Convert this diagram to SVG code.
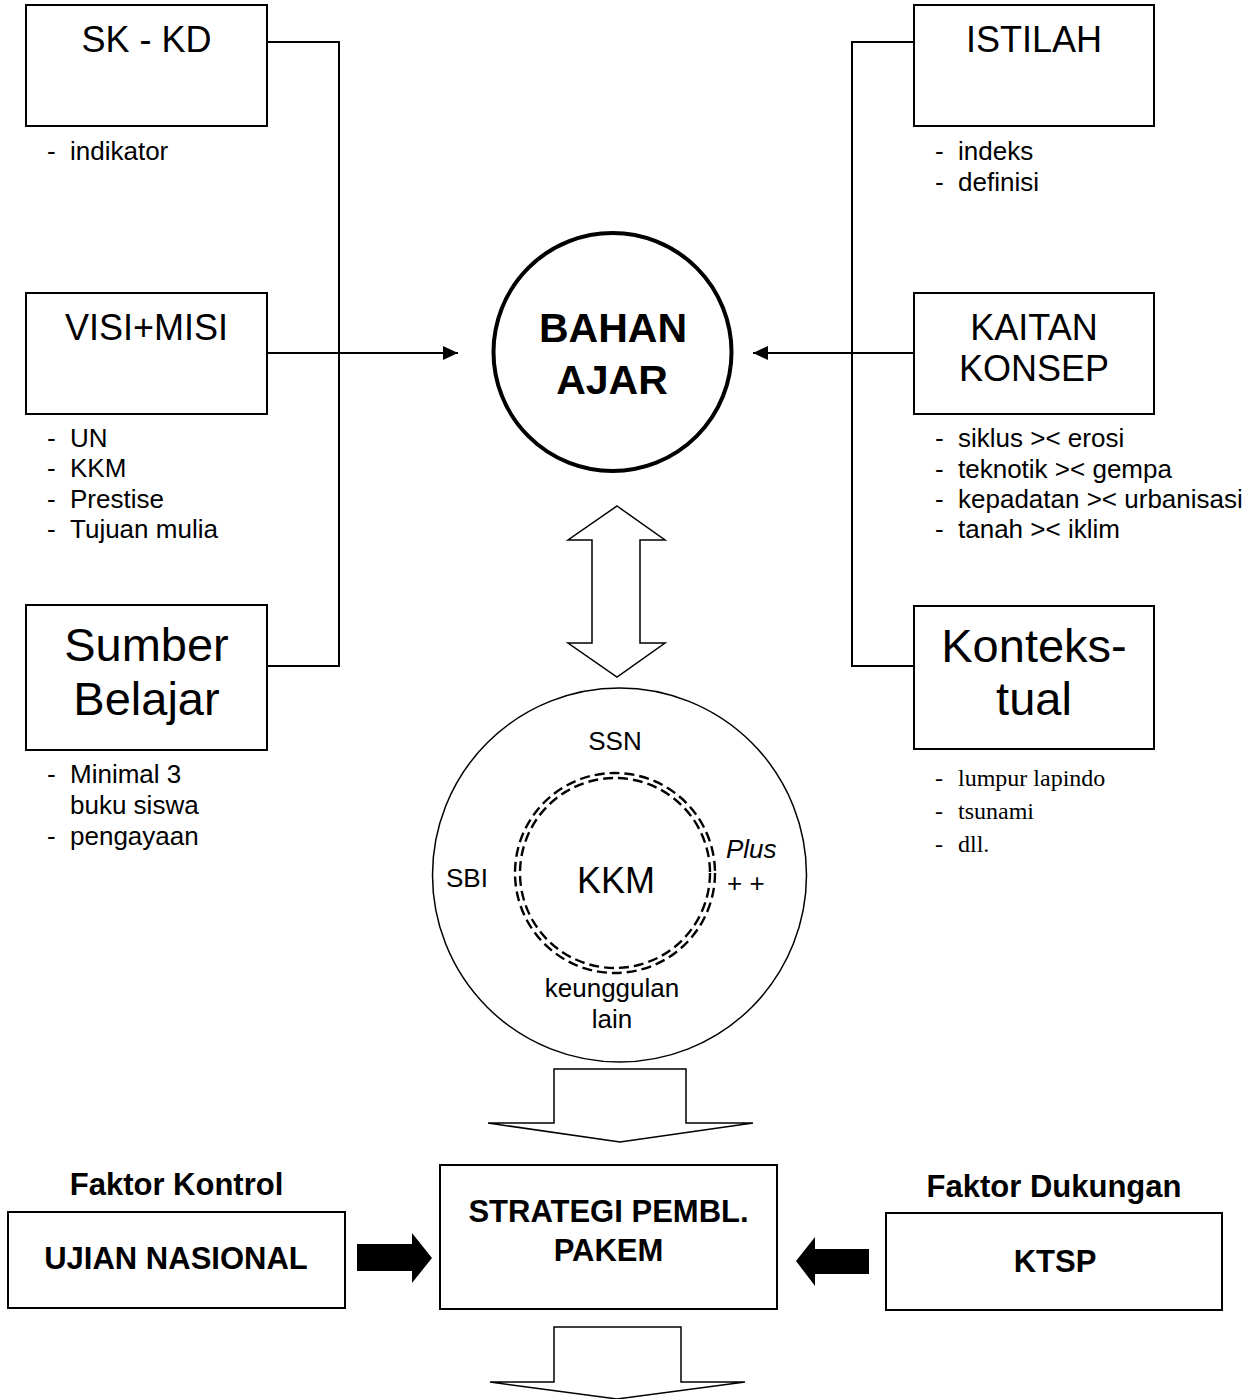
<svg xmlns="http://www.w3.org/2000/svg" width="1257" height="1399" viewBox="0 0 1257 1399">
<style>
.box{fill:#fff;stroke:#000;stroke-width:2}
.ln{fill:none;stroke:#000;stroke-width:2}
.t{font-family:"Liberation Sans",Arial,sans-serif;fill:#000}
.big{font-size:36px}
.huge{font-size:47px}
.sm{font-size:26px}
.ser{font-family:"Liberation Serif","Times New Roman",serif;font-size:24px;fill:#000}
.b{font-weight:bold}
.bb{font-size:31px}
.c{text-anchor:middle}
.hollow{fill:#fff;stroke:#000;stroke-width:1.5;stroke-linejoin:miter}
.dash{fill:none;stroke:#000;stroke-width:2.4;stroke-dasharray:10 5}
</style>
<defs>
<marker id="ah" markerWidth="16" markerHeight="14" refX="15" refY="7" orient="auto" markerUnits="userSpaceOnUse">
<path d="M0,0 L15,7 L0,14 Z" fill="#000"/>
</marker>
</defs>
<rect width="1257" height="1399" fill="#fff"/>

<g id="connectors">
<path class="ln" d="M267,42 H339 V666 H267"/>
<line class="ln" x1="267" y1="353" x2="458" y2="353" marker-end="url(#ah)"/>
<path class="ln" d="M914,42 H852 V666 H914"/>
<line class="ln" x1="914" y1="353" x2="753" y2="353" marker-end="url(#ah)"/>
<polygon class="hollow" points="617,506 665,540 640,540 640,643 665,643 617,677 568,643 592,643 592,540 568,540"/>
<polygon class="hollow" points="554,1069 686,1069 686,1123 753,1123 620,1142 488,1123 554,1123"/>
<polygon class="hollow" points="554,1327 681,1327 681,1382 745,1382 617,1399 490,1382 554,1382"/>
<polygon fill="#000" points="357,1244 412,1244 412,1233 432,1258 412,1283 412,1271 357,1271"/>
<polygon fill="#000" points="869,1249 815,1249 815,1237 796,1261 815,1286 815,1274 869,1274"/>
</g>

<g id="sk-kd">
<rect class="box" x="26" y="5" width="241" height="121"/>
<text class="t big c" x="146.5" y="52">SK - KD</text>
<text class="t sm" x="47" y="160">-</text><text class="t sm" x="70" y="160">indikator</text>
</g>

<g id="visi-misi">
<rect class="box" x="26" y="293" width="241" height="121"/>
<text class="t big c" x="146.5" y="340">VISI+MISI</text>
<text class="t sm" x="47" y="447">-</text><text class="t sm" x="70" y="447">UN</text>
<text class="t sm" x="47" y="477">-</text><text class="t sm" x="70" y="477">KKM</text>
<text class="t sm" x="47" y="508">-</text><text class="t sm" x="70" y="508">Prestise</text>
<text class="t sm" x="47" y="538">-</text><text class="t sm" x="70" y="538">Tujuan mulia</text>
</g>

<g id="sumber-belajar">
<rect class="box" x="26" y="605" width="241" height="145"/>
<text class="t huge c" x="146.5" y="661">Sumber</text>
<text class="t huge c" x="146.5" y="715">Belajar</text>
<text class="t sm" x="47" y="783">-</text><text class="t sm" x="70" y="783">Minimal 3</text>
<text class="t sm" x="70" y="814">buku siswa</text>
<text class="t sm" x="47" y="845">-</text><text class="t sm" x="70" y="845">pengayaan</text>
</g>

<g id="istilah">
<rect class="box" x="914" y="5" width="240" height="121"/>
<text class="t big c" x="1034" y="52">ISTILAH</text>
<text class="t sm" x="935" y="160">-</text><text class="t sm" x="958" y="160">indeks</text>
<text class="t sm" x="935" y="191">-</text><text class="t sm" x="958" y="191">definisi</text>
</g>

<g id="kaitan-konsep">
<rect class="box" x="914" y="293" width="240" height="121"/>
<text class="t big c" x="1034" y="340">KAITAN</text>
<text class="t big c" x="1034" y="381">KONSEP</text>
<text class="t sm" x="935" y="447">-</text><text class="t sm" x="958" y="447">siklus &gt;&lt; erosi</text>
<text class="t sm" x="935" y="478">-</text><text class="t sm" x="958" y="478">teknotik &gt;&lt; gempa</text>
<text class="t sm" x="935" y="508">-</text><text class="t sm" x="958" y="508">kepadatan &gt;&lt; urbanisasi</text>
<text class="t sm" x="935" y="538">-</text><text class="t sm" x="958" y="538">tanah &gt;&lt; iklim</text>
</g>

<g id="kontekstual">
<rect class="box" x="914" y="606" width="240" height="143"/>
<text class="t huge c" x="1034" y="662">Konteks-</text>
<text class="t huge c" x="1034" y="715">tual</text>
<text class="ser" x="935" y="786">-</text><text class="ser" x="958" y="786">lumpur lapindo</text>
<text class="ser" x="935" y="819">-</text><text class="ser" x="958" y="819">tsunami</text>
<text class="ser" x="935" y="852">-</text><text class="ser" x="958" y="852">dll.</text>
</g>

<g id="bahan-ajar">
<circle cx="612.5" cy="352" r="119" fill="#fff" stroke="#000" stroke-width="4"/>
<text class="t b c" style="font-size:41px" x="613" y="342">BAHAN</text>
<text class="t b c" style="font-size:41px" x="612" y="394">AJAR</text>
</g>

<g id="kkm">
<circle cx="619.5" cy="875" r="187" fill="#fff" stroke="#000" stroke-width="1.5"/>
<circle class="dash" cx="615" cy="873" r="100"/>
<circle class="dash" cx="615" cy="873" r="95"/>
<text class="t sm c" x="615" y="750">SSN</text>
<text class="t sm c" x="467" y="887">SBI</text>
<text class="t big c" x="616" y="893">KKM</text>
<text class="t sm" font-style="italic" x="726" y="858">Plus</text>
<text class="t sm" x="727" y="892">+ +</text>
<text class="t sm c" x="612" y="997">keunggulan</text>
<text class="t sm c" x="612" y="1028">lain</text>
</g>

<g id="strategi">
<rect class="box" x="440" y="1165" width="337" height="144"/>
<text class="t b c bb" x="608.5" y="1222">STRATEGI PEMBL.</text>
<text class="t b c bb" x="608.5" y="1261">PAKEM</text>
</g>

<g id="ujian-nasional">
<text class="t b c bb" x="176.5" y="1195">Faktor Kontrol</text>
<rect class="box" x="8" y="1212" width="337" height="96"/>
<text class="t b c bb" x="176" y="1269">UJIAN NASIONAL</text>
</g>

<g id="ktsp">
<text class="t b c bb" x="1054" y="1197">Faktor Dukungan</text>
<rect class="box" x="886" y="1213" width="336" height="97"/>
<text class="t b c bb" x="1055" y="1272">KTSP</text>
</g>
</svg>
